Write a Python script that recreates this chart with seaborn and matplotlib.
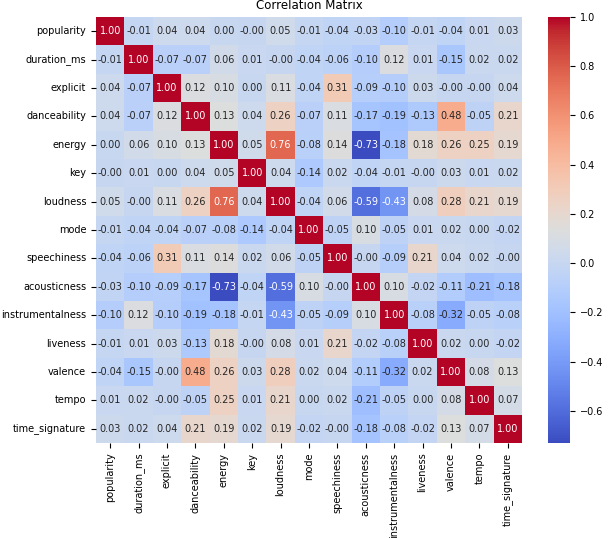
import numpy as np
import pandas as pd
import seaborn as sns
import matplotlib
import matplotlib.pyplot as plt

matplotlib.use('Agg')

# Nombres de las variables
features = ['popularity', 'duration_ms', 'explicit', 'danceability', 'energy', 'key',
            'loudness', 'mode', 'speechiness', 'acousticness', 'instrumentalness',
            'liveness', 'valence', 'tempo', 'time_signature']

# Valores de correlacion (-0.004 se muestra como -0.00)
corr_values = [
    [1.00, -0.01, 0.04, 0.04, 0.00, -0.004, 0.05, -0.01, -0.04, -0.03, -0.10, -0.01, -0.04, 0.01, 0.03],
    [-0.01, 1.00, -0.07, -0.07, 0.06, 0.01, -0.004, -0.04, -0.06, -0.10, 0.12, 0.01, -0.15, 0.02, 0.02],
    [0.04, -0.07, 1.00, 0.12, 0.10, 0.00, 0.11, -0.04, 0.31, -0.09, -0.10, 0.03, -0.004, -0.004, 0.04],
    [0.04, -0.07, 0.12, 1.00, 0.13, 0.04, 0.26, -0.07, 0.11, -0.17, -0.19, -0.13, 0.48, -0.05, 0.21],
    [0.00, 0.06, 0.10, 0.13, 1.00, 0.05, 0.76, -0.08, 0.14, -0.73, -0.18, 0.18, 0.26, 0.25, 0.19],
    [-0.004, 0.01, 0.00, 0.04, 0.05, 1.00, 0.04, -0.14, 0.02, -0.04, -0.01, -0.004, 0.03, 0.01, 0.02],
    [0.05, -0.004, 0.11, 0.26, 0.76, 0.04, 1.00, -0.04, 0.06, -0.59, -0.43, 0.08, 0.28, 0.21, 0.19],
    [-0.01, -0.04, -0.04, -0.07, -0.08, -0.14, -0.04, 1.00, -0.05, 0.10, -0.05, 0.01, 0.02, 0.00, -0.02],
    [-0.04, -0.06, 0.31, 0.11, 0.14, 0.02, 0.06, -0.05, 1.00, -0.004, -0.09, 0.21, 0.04, 0.02, -0.004],
    [-0.03, -0.10, -0.09, -0.17, -0.73, -0.04, -0.59, 0.10, -0.004, 1.00, 0.10, -0.02, -0.11, -0.21, -0.18],
    [-0.10, 0.12, -0.10, -0.19, -0.18, -0.01, -0.43, -0.05, -0.09, 0.10, 1.00, -0.08, -0.32, -0.05, -0.08],
    [-0.01, 0.01, 0.03, -0.13, 0.18, -0.004, 0.08, 0.01, 0.21, -0.02, -0.08, 1.00, 0.02, 0.00, -0.02],
    [-0.04, -0.15, -0.004, 0.48, 0.26, 0.03, 0.28, 0.02, 0.04, -0.11, -0.32, 0.02, 1.00, 0.08, 0.13],
    [0.01, 0.02, -0.004, -0.05, 0.25, 0.01, 0.21, 0.00, 0.02, -0.21, -0.05, 0.00, 0.08, 1.00, 0.07],
    [0.03, 0.02, 0.04, 0.21, 0.19, 0.02, 0.19, -0.02, -0.004, -0.18, -0.08, -0.02, 0.13, 0.07, 1.00],
]

corr = pd.DataFrame(np.array(corr_values), index=features, columns=features)

fig = plt.figure(figsize=(6.1, 5.38), dpi=100)
# Ejes del mapa de calor y de la barra de color (posiciones en fraccion de figura)
ax = fig.add_axes([96 / 610, 95 / 538, 426 / 610, 426 / 538])
cax = fig.add_axes([548 / 610, 95 / 538, 22 / 610, 426 / 538])

sns.heatmap(corr, annot=True, fmt='.2f', cmap='coolwarm',
            annot_kws={'size': 7}, ax=ax, cbar_ax=cax)
ax.set_title('Correlation Matrix', fontsize=8.5)
ax.tick_params(axis='both', labelsize=7)
cax.tick_params(labelsize=7)

plt.savefig('out.png', dpi=100)
